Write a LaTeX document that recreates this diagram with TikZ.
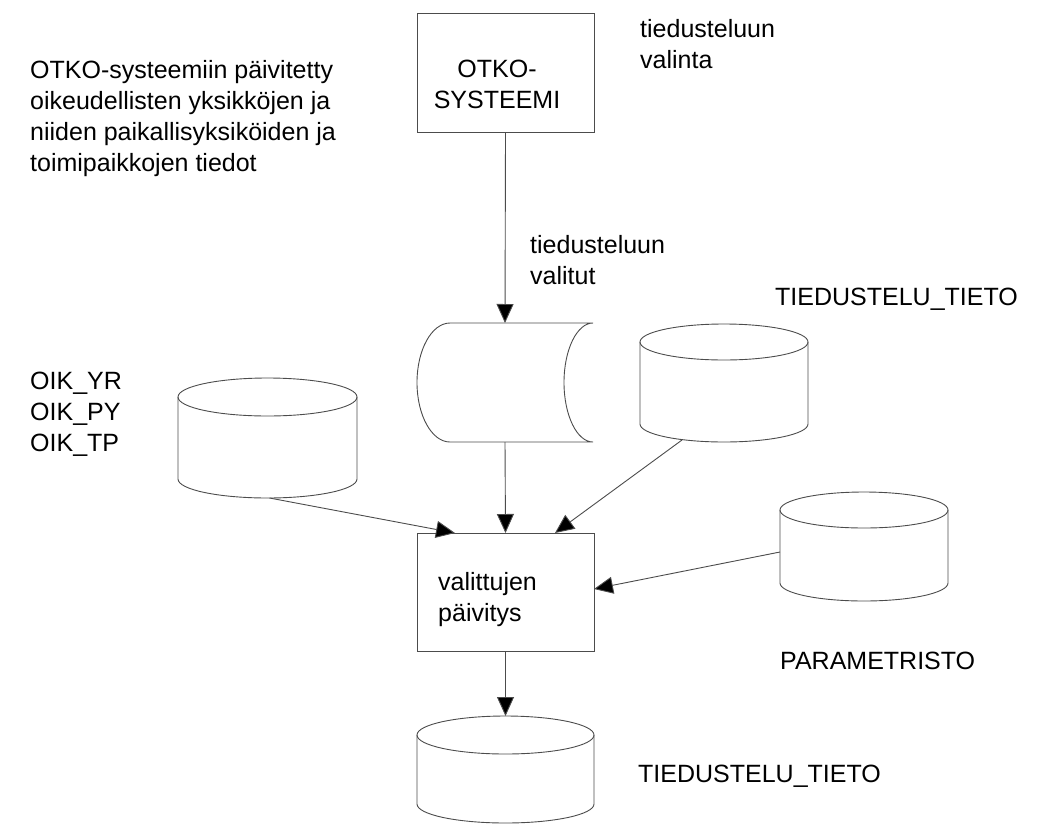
\documentclass[tikz,border=0pt]{standalone}
\usepackage{fontspec}
\setmainfont{Liberation Sans}
\usetikzlibrary{arrows.meta,calc}
\newcommand\drawdb[3]{%
  \draw[shapeline] ([yshift=-#3pt]#1.north) ellipse [x radius=#2, y radius=#3];
  \draw[shapeline] ([yshift=-#3pt]#1.north west) -- ([yshift=#3pt]#1.south west)
     arc[start angle=180, end angle=360, x radius=#2, y radius=#3] -- ([yshift=-#3pt]#1.north east);
}
\begin{document}
\begin{tikzpicture}[x=1pt,y=1pt,
  shapeline/.style={draw=black!70, line width=0.9pt},
  box/.style={shapeline, rectangle, inner sep=0pt, outer sep=0pt},
  area/.style={rectangle, draw=none, inner sep=0pt, outer sep=0pt},
  txt/.style={font=\fontsize{25}{31}\selectfont, inner sep=0pt, anchor=west, align=left, text=black},
  conn/.style={draw=black!70, line width=0.9pt, -{Triangle[length=19pt,width=17pt,fill=black]}}
]
\useasboundingbox (0,0) rectangle (1048,-827);

% boxes
\node[box, minimum width=177, minimum height=119] (otko) at (505.5,-72.5) {};
\node[box, minimum width=177, minimum height=118] (upd) at (505.5,-592) {};

% database areas
\node[area, minimum width=176, minimum height=119] (hcyl) at (505,-382.5) {};
\node[area, minimum width=179, minimum height=120] (oik) at (267.5,-438) {};
\node[area, minimum width=168, minimum height=118] (tt1) at (724,-383) {};
\node[area, minimum width=168, minimum height=109] (param) at (864,-546.5) {};
\node[area, minimum width=177, minimum height=107] (tt2) at (505.5,-769.5) {};

% horizontal cylinder
\draw[shapeline] ([xshift=33pt]hcyl.north west)
  arc[start angle=90, end angle=270, x radius=33, y radius=59.5]
  -- (hcyl.south east)
  arc[start angle=270, end angle=90, x radius=29, y radius=59.5]
  -- cycle;

% vertical cylinders
\drawdb{oik}{89.5}{19}
\drawdb{tt1}{84}{18}
\drawdb{param}{84}{18}
\drawdb{tt2}{88.5}{19}

% texts
\node[txt] (para) at (30,-119) {OTKO-systeemiin päivitetty\\oikeudellisten yksikköjen ja\\niiden paikallisyksiköiden ja\\toimipaikkojen tiedot};
\node[txt, anchor=center, align=center] (otkot) at (497,-84) {OTKO-\\SYSTEEMI};
\node[txt] (valinta) at (640,-44) {tiedusteluun\\valinta};
\node[txt] (valitut) at (530,-260) {tiedusteluun\\valitut};
\node[txt] (tt1l) at (775,-299) {TIEDUSTELU\_TIETO};
\node[txt] (oikl) at (30,-414) {OIK\_YR\\OIK\_PY\\OIK\_TP};
\node[txt] (updt) at (438,-600) {valittujen\\päivitys};
\node[txt] (paraml) at (780,-661) {PARAMETRISTO};
\node[txt] (tt2l) at (638,-776) {TIEDUSTELU\_TIETO};

% connectors
\draw[conn] (otko.south) -- (hcyl.north);
\draw[conn] (hcyl.south) -- (upd.north);
\draw[conn] ([xshift=2pt]oik.south) -- ([xshift=38pt]upd.north west);
\draw[conn] ([xshift=-42pt,yshift=2pt]tt1.south) -- ([xshift=-39pt]upd.north east);
\draw[conn] ([yshift=-5.5pt]param.west) -- ([yshift=3pt]upd.east);
\draw[conn] (upd.south) -- (tt2.north);
\end{tikzpicture}
\end{document}
